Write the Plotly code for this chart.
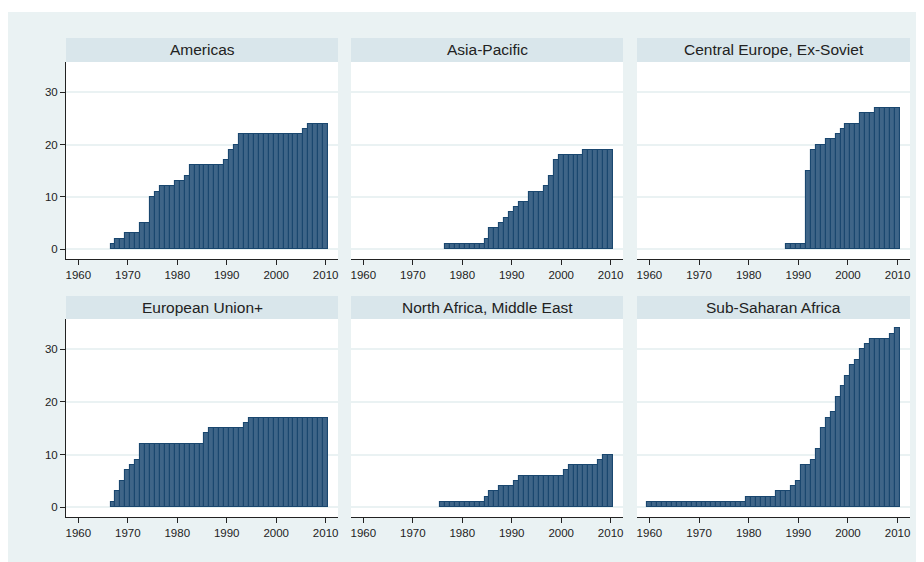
import plotly.graph_objects as go

# ---------------- data ----------------
regions = ["Americas", "Asia-Pacific", "Central Europe, Ex-Soviet",
           "European Union+", "North Africa, Middle East", "Sub-Saharan Africa"]

americas_years = list(range(1967, 2011))
americas_counts = [1, 2, 2, 3, 3, 3, 5, 5, 10, 11, 12, 12, 12, 13, 13, 14,
                   16, 16, 16, 16, 16, 16, 16, 17, 19, 20,
                   22, 22, 22, 22, 22, 22, 22, 22, 22, 22, 22, 22, 22,
                   23, 24, 24, 24, 24]

asia_years = list(range(1977, 2011))
asia_counts = [1, 1, 1, 1, 1, 1, 1, 1, 2, 4, 4, 5, 6, 7, 8, 9, 9,
               11, 11, 11, 12, 14, 17, 18, 18, 18, 18, 18,
               19, 19, 19, 19, 19, 19]

ceurope_years = list(range(1988, 2011))
ceurope_counts = [1, 1, 1, 1, 15, 19, 20, 20, 21, 21, 22, 23, 24, 24, 24,
                  26, 26, 26, 27, 27, 27, 27, 27]

eu_years = list(range(1967, 2011))
eu_counts = [1, 3, 5, 7, 8, 9,
             12, 12, 12, 12, 12, 12, 12, 12, 12, 12, 12, 12, 12,
             14, 15, 15, 15, 15, 15, 15, 15, 16,
             17, 17, 17, 17, 17, 17, 17, 17, 17, 17, 17, 17, 17, 17, 17, 17]

mena_years = list(range(1976, 2011))
mena_counts = [1, 1, 1, 1, 1, 1, 1, 1, 1, 2, 3, 3, 4, 4, 4, 5,
               6, 6, 6, 6, 6, 6, 6, 6, 6, 7, 8, 8, 8, 8, 8, 8, 9, 10, 10]

ssa_years = list(range(1960, 2011))
ssa_counts = [1, 1, 1, 1, 1, 1, 1, 1, 1, 1, 1, 1, 1, 1, 1, 1, 1, 1, 1, 1,
              2, 2, 2, 2, 2, 2, 3, 3, 3, 4, 5, 8, 8, 9, 11, 15, 17, 18,
              21, 23, 25, 27, 28, 30, 31, 32, 32, 32, 32, 33, 34]

series = [(americas_years, americas_counts), (asia_years, asia_counts),
          (ceurope_years, ceurope_counts), (eu_years, eu_counts),
          (mena_years, mena_counts), (ssa_years, ssa_counts)]

x_ticks = [1960, 1970, 1980, 1990, 2000, 2010]
y_ticks = [0, 10, 20, 30]

# ---------------- layout ----------------
# page body has an 8px margin; figure placed at (8, 8) of the window
OFF = 8
W, H = 924 - OFF, 562 - OFF
col_px = [(66, 338), (351, 623), (637, 910)]
row_plot_px = [(62, 259), (319, 517)]
row_strip_px = [(38, 62), (296, 319)]

BG = "#EAF2F3"
STRIP = "#D9E6EB"
FILL = "#3F6588"
LINE = "#1A476F"
FONT = "Liberation Sans, Arial, sans-serif"

fig = go.Figure()
layout = dict(
    width=W, height=H, margin=dict(l=0, r=0, t=0, b=0),
    paper_bgcolor=BG, plot_bgcolor="white", showlegend=False,
    font=dict(family=FONT, color="#222222"),
    bargap=0,
)
shapes = []
annotations = []


def px_x(v):
    return (v - OFF) / W


def px_y(v):
    return 1 - (v - OFF) / H


for i, (name, (xs, ys)) in enumerate(zip(regions, series)):
    r, c = divmod(i, 3)
    n = i + 1
    xa = "x" if n == 1 else f"x{n}"
    ya = "y" if n == 1 else f"y{n}"
    fig.add_trace(go.Bar(
        x=xs, y=ys, width=1, xaxis=xa, yaxis=ya,
        marker=dict(color=FILL, line=dict(color=LINE, width=1.1)),
    ))
    x0, x1 = col_px[c]
    ytop, ybot = row_plot_px[r]
    xdom = [px_x(x0), px_x(x1)]
    ydom = [px_y(ybot), px_y(ytop)]
    layout["xaxis" if n == 1 else f"xaxis{n}"] = dict(
        domain=xdom, anchor=ya, range=[1957.5, 2012.5],
        tickvals=x_ticks, ticktext=[str(v) for v in x_ticks],
        ticks="outside", ticklen=5, tickwidth=1, tickcolor="#222222",
        showline=True, linecolor="#222222", linewidth=1,
        showgrid=False, zeroline=False,
        tickfont=dict(size=11.5, color="#222222", family=FONT),
    )
    first_col = (c == 0)
    layout["yaxis" if n == 1 else f"yaxis{n}"] = dict(
        domain=ydom, anchor=xa, range=[-1.9, 35.8],
        tickvals=y_ticks, ticktext=[str(v) for v in y_ticks],
        ticks="outside" if first_col else "", ticklen=5, tickwidth=1,
        tickcolor="#222222",
        showticklabels=first_col,
        showline=first_col, linecolor="#222222", linewidth=1,
        showgrid=True, gridcolor=BG, gridwidth=1.5, zeroline=False,
        tickfont=dict(size=11.5, color="#222222", family=FONT),
    )
    s0, s1 = row_strip_px[r]
    shapes.append(dict(type="rect", xref="paper", yref="paper",
                       x0=px_x(x0), x1=px_x(x1), y0=px_y(s1), y1=px_y(s0),
                       fillcolor=STRIP, line=dict(width=0), layer="below"))
    annotations.append(dict(text=name, xref="paper", yref="paper",
                            x=px_x((x0 + x1) / 2), y=px_y((s0 + s1) / 2),
                            xanchor="center", yanchor="middle", showarrow=False,
                            font=dict(size=15.5, color="#222222", family=FONT)))

# white outer margin at top (body margin supplies the first 8px)
shapes.append(dict(type="rect", xref="paper", yref="paper",
                   x0=0, x1=1, y0=px_y(12), y1=1,
                   fillcolor="white", line=dict(width=0), layer="below"))

layout["shapes"] = shapes
layout["annotations"] = annotations
fig.update_layout(**layout)
fig.write_html("out.html")
